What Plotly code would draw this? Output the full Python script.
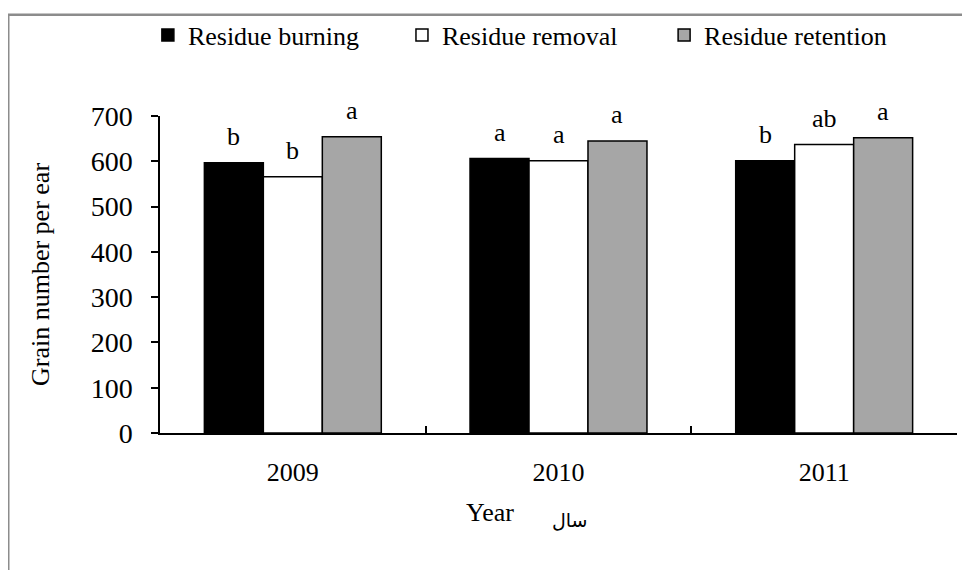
import plotly.graph_objects as go

years = ["2009", "2010", "2011"]
series_names = ["Residue burning", "Residue removal", "Residue retention"]
burning = [597, 606, 601]
removal = [566, 601, 637]
retention = [654, 645, 652]
letters_burning = ["b", "a", "b"]
letters_removal = ["b", "a", "ab"]
letters_retention = ["a", "a", "a"]
y_ticks = [0, 100, 200, 300, 400, 500, 600, 700]

FONT = "Liberation Serif"
FS = 26
colors = ["#000000", "#ffffff", "#a6a6a6"]
values = [burning, removal, retention]
letters = [letters_burning, letters_removal, letters_retention]
legend_ids = ["legend", "legend2", "legend3"]
legend_x = [-0.0152, 0.3036, 0.6325]

W, H = 970, 570
ML, MR, MT, MB = 152, 21, 108, 145
BARGAP = 0.334
plot_w = W - ML - MR
cat_px = plot_w / len(years)
bar_px = cat_px * (1 - BARGAP) / len(series_names)

fig = go.Figure()
for k, (name, vals, col, lg) in enumerate(zip(series_names, values, colors, legend_ids)):
    fig.add_trace(go.Bar(
        x=years, y=vals, name=name,
        marker=dict(color=col, line=dict(color="#000000", width=1.5)),
        legend=lg,
    ))

# significance letters above bars (x given as category index)
for k, (vals, let) in enumerate(zip(values, letters)):
    for i, (v, t) in enumerate(zip(vals, let)):
        fig.add_annotation(x=i, y=v, xref="x", yref="y", text=t, showarrow=False,
                           xshift=(k - 1) * bar_px, yshift=10, yanchor="bottom",
                           font=dict(family=FONT, size=FS, color="#000000"))

leg_common = dict(orientation="h", yanchor="middle", xanchor="left",
                  font=dict(family=FONT, size=FS, color="#000000"),
                  bgcolor="rgba(0,0,0,0)", itemwidth=30)
layout_legends = {}
for lg, lx in zip(legend_ids, legend_x):
    layout_legends[lg] = dict(leg_common, x=lx, y=1.255)

fig.update_layout(
    width=W, height=H,
    margin=dict(l=ML, r=MR, t=MT, b=MB, autoexpand=False),
    paper_bgcolor="#ffffff", plot_bgcolor="#ffffff",
    barmode="group", bargap=BARGAP, bargroupgap=0,
    font=dict(family=FONT, size=FS, color="#000000"),
    showlegend=True,
    **layout_legends,
    xaxis=dict(
        type="category", categoryorder="array", categoryarray=years,
        range=[-0.5, len(years) - 0.5],
        showline=True, linecolor="#000000", linewidth=1.5,
        ticks="inside", tickson="boundaries", ticklen=7, tickcolor="#000000",
        tickwidth=1.5, showgrid=False, zeroline=False, tickangle=0,
        tickfont=dict(family=FONT, size=FS), ticklabelstandoff=15,
    ),
    yaxis=dict(
        range=[0, 700], tickvals=y_ticks, showline=True, linecolor="#000000",
        linewidth=1.5, ticks="outside", ticklen=7, tickcolor="#000000",
        tickwidth=1.5, showgrid=False, zeroline=False,
        tickfont=dict(family=FONT, size=28), ticklabelstandoff=13,
        title=dict(text="Grain number per ear", font=dict(family=FONT, size=FS), standoff=34),
    ),
)

# x-axis title and its Persian equivalent
fig.add_annotation(text="Year", xref="paper", yref="paper", x=0.4139, y=-0.252,
                   showarrow=False, yanchor="middle", xanchor="center",
                   font=dict(family=FONT, size=FS, color="#000000"))
fig.add_annotation(text="سال", xref="paper", yref="paper", x=0.5148, y=-0.274,
                   showarrow=False, yanchor="middle", xanchor="center",
                   font=dict(family="DejaVu Sans", size=19, color="#000000"))

# outer chart frame (only top and left edges visible)
fig.add_shape(type="rect", xref="paper", yref="paper",
              x0=-0.1904, y0=-1.0, x1=1.5, y1=1.3196,
              line=dict(color="#8c8c8c", width=2.5), fillcolor="rgba(0,0,0,0)", layer="below")

fig.write_html("out.html")
